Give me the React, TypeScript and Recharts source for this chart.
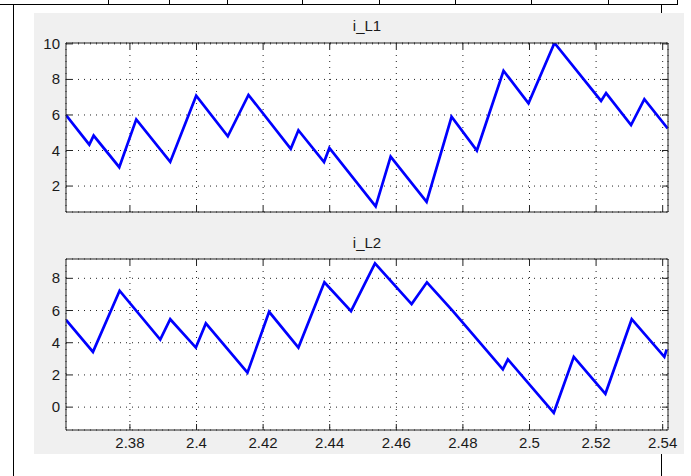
import React from 'react';
import { LineChart, Line, XAxis, YAxis, CartesianGrid } from 'recharts';

// time axis shared by both plots
const xTicks = [2.38, 2.4, 2.42, 2.44, 2.46, 2.48, 2.5, 2.52, 2.54];
const xDomain = [2.3608, 2.5416];

// i_L1 waveform vertices
const iL1Time = [
  2.3608, 2.3678, 2.3691, 2.3768, 2.3819, 2.3921, 2.3999, 2.4094, 2.4156, 2.4283, 2.4306, 2.4383, 2.4399,
  2.4538, 2.4583, 2.4691, 2.4766, 2.4842, 2.4922, 2.4997, 2.5075, 2.5215, 2.523, 2.5305, 2.5345, 2.5415,
];
const iL1Value = [
  5.99, 4.33, 4.84, 3.06, 5.75, 3.36, 7.08, 4.8, 7.13, 4.1, 5.14, 3.35, 4.14,
  0.86, 3.66, 1.11, 5.9, 4.0, 8.49, 6.66, 10.05, 6.79, 7.23, 5.43, 6.89, 5.24,
];
const iL1Ticks = [2, 4, 6, 8, 10];

// i_L2 waveform vertices
const iL2Time = [
  2.3608, 2.3689, 2.3769, 2.3891, 2.3921, 2.3998, 2.4028, 2.4153, 2.4218, 2.4306, 2.4384, 2.4464,
  2.4536, 2.4646, 2.4692, 2.477, 2.492, 2.4935, 2.5073, 2.5133, 2.5228, 2.5307, 2.5405, 2.5412,
];
const iL2Value = [
  5.42, 3.43, 7.23, 4.2, 5.46, 3.7, 5.2, 2.14, 5.92, 3.7, 7.75, 5.96,
  8.93, 6.4, 7.75, 5.96, 2.35, 2.97, -0.35, 3.12, 0.83, 5.46, 3.12, 3.58,
];
const iL2Ticks = [0, 2, 4, 6, 8];

const iL1Data = iL1Time.map((t, i) => ({ t, v: iL1Value[i] }));
const iL2Data = iL2Time.map((t, i) => ({ t, v: iL2Value[i] }));

const FONT = '"Liberation Sans", Arial, sans-serif';
const TEXT = '#1a1a1a';
const FS = 15;
const TICK = 6;

const fmt = (v: number) => String(Number(v.toFixed(2)));

// MATLAB style ticks: pointing inward, labels outside
const BottomTick = ({ x, y, payload, showLabel }: any) => (
  <g>
    <line x1={x} x2={x} y1={y} y2={y - TICK} stroke="#222" />
    {showLabel && (
      <text x={x} y={y + 18} textAnchor="middle" fontSize={FS} fontFamily={FONT} fill={TEXT}>
        {fmt(payload.value)}
      </text>
    )}
  </g>
);

const TopTick = ({ x, y }: any) => <line x1={x} x2={x} y1={y} y2={y + TICK} stroke="#222" />;

const LeftTick = ({ x, y, payload }: any) => (
  <g>
    <line x1={x} x2={x + TICK} y1={y} y2={y} stroke="#222" />
    <text x={x - 6} y={y + 5} textAnchor="end" fontSize={FS} fontFamily={FONT} fill={TEXT}>
      {payload.value}
    </text>
  </g>
);

const RightTick = ({ x, y }: any) => <line x1={x} x2={x - TICK} y1={y} y2={y} stroke="#222" />;

const PLOT_LEFT = 66;
const PLOT_RIGHT = 668;
const Y_W = 30;
const YR_W = 10;
const XT_H = 10;
const XB_H = 25;

function Panel({ data, yDomain, yTicks, top, bottom, showX }: any) {
  return (
    <div style={{ position: 'absolute', left: 0, top: 0 }}>
      <LineChart
        width={691}
        height={476}
        data={data}
        margin={{ top: top - XT_H, bottom: 476 - bottom - XB_H, left: PLOT_LEFT - Y_W, right: 691 - PLOT_RIGHT - YR_W }}
      >
        <CartesianGrid stroke="#222" strokeDasharray="1 5" fill="#fff" />
        <XAxis
          dataKey="t"
          type="number"
          domain={xDomain}
          ticks={xTicks}
          allowDataOverflow
          height={XB_H}
          tickSize={0}
          tickMargin={0}
          tickLine={false}
          axisLine={{ stroke: '#222' }}
          tick={(p: any) => <BottomTick {...p} showLabel={showX} />}
          interval={0}
        />
        <XAxis
          xAxisId="top"
          orientation="top"
          dataKey="t"
          type="number"
          domain={xDomain}
          ticks={xTicks}
          allowDataOverflow
          height={XT_H}
          tickSize={0}
          tickMargin={0}
          tickLine={false}
          axisLine={{ stroke: '#222' }}
          tick={TopTick}
          interval={0}
        />
        <YAxis
          type="number"
          domain={yDomain}
          ticks={yTicks}
          allowDataOverflow
          width={Y_W}
          tickSize={0}
          tickMargin={0}
          tickLine={false}
          axisLine={{ stroke: '#222' }}
          tick={LeftTick}
          interval={0}
        />
        <YAxis
          yAxisId="right"
          orientation="right"
          type="number"
          domain={yDomain}
          ticks={yTicks}
          allowDataOverflow
          width={YR_W}
          tickSize={0}
          tickMargin={0}
          tickLine={false}
          axisLine={{ stroke: '#222' }}
          tick={RightTick}
          interval={0}
        />
        <Line
          dataKey="v"
          type="linear"
          stroke="#0000ff"
          strokeWidth={2.7}
          dot={false}
          isAnimationActive={false}
        />
      </LineChart>
    </div>
  );
}

const hLine = (left: number, top: number, width: number) => (
  <div style={{ position: 'absolute', left, top, width, height: 1, background: '#000' }} />
);
const vLine = (left: number, top: number, height: number) => (
  <div style={{ position: 'absolute', left, top, width: 1, height, background: '#000' }} />
);

export default function App() {
  const cellEdges = [108, 169, 227, 302, 379, 455, 531, 608, 677];
  return (
    <div style={{ position: 'absolute', left: 0, top: 0, width: 691, height: 476, background: '#fff', overflow: 'hidden' }}>
      {/* window frame behind the figure */}
      {hLine(0, 4, 678)}
      {cellEdges.map((x) => vLine(x, 0, 5))}
      {vLine(13, 4, 472)}
      {vLine(661, 4, 472)}

      <div style={{ position: 'absolute', left: 34, top: 13, width: 650, height: 441, background: '#f0f0f0' }} />

      <div style={{ position: 'absolute', left: 66, width: 602, top: 17, textAlign: 'center', fontFamily: FONT, fontSize: FS, color: TEXT }}>
        i_L1
      </div>
      <div style={{ position: 'absolute', left: 66, width: 602, top: 234, textAlign: 'center', fontFamily: FONT, fontSize: FS, color: TEXT }}>
        i_L2
      </div>

      <Panel data={iL1Data} yDomain={[0.54, 10.05]} yTicks={iL1Ticks} top={43} bottom={212} showX={false} />
      <Panel data={iL2Data} yDomain={[-1.42, 9.2]} yTicks={iL2Ticks} top={259} bottom={430} showX={true} />
    </div>
  );
}
